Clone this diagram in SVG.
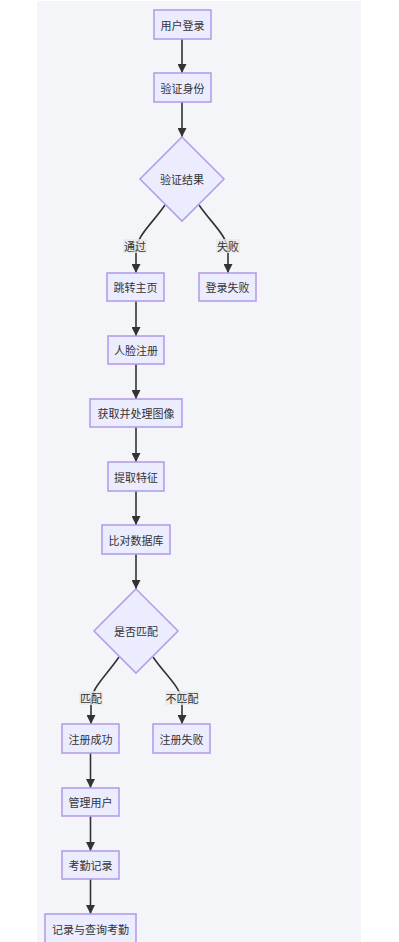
<svg xmlns="http://www.w3.org/2000/svg" width="399" height="942" viewBox="0 0 399 942">
<defs>
<style>
.n rect,.n polygon{fill:#ECECFF;stroke:#b49fea;stroke-width:1.6}
text{font-family:"Noto Sans CJK SC","Noto Sans",sans-serif;font-size:11px;fill:#333;text-anchor:middle;dominant-baseline:central}
.e path{fill:none;stroke:#333;stroke-width:1.6}
.lb rect{fill:#e8e8e8;opacity:0.8}
</style>
<marker id="ah" viewBox="0 0 10 10" refX="10" refY="5" markerWidth="9" markerHeight="9" markerUnits="userSpaceOnUse" orient="auto">
<path d="M0,0 L10,5 L0,10 z" fill="#333"/>
</marker>
</defs>
<rect x="0" y="0" width="399" height="942" fill="#ffffff"/>
<rect x="37" y="1" width="324" height="941" fill="#f4f5f8"/>
<g id="connectors" class="e">
<path d="M182,39 L182,73" marker-end="url(#ah)"/>
<path d="M182,102 L182,137" marker-end="url(#ah)"/>
<path d="M165,205 C152,224 136,236 136,252 L136,273" marker-end="url(#ah)"/>
<path d="M199,205 C212,224 228,236 228,252 L228,273" marker-end="url(#ah)"/>
<path d="M136,301 L136,336" marker-end="url(#ah)"/>
<path d="M136,364 L136,399" marker-end="url(#ah)"/>
<path d="M136,427 L136,462" marker-end="url(#ah)"/>
<path d="M136,491 L136,525" marker-end="url(#ah)"/>
<path d="M136,554 L136,589" marker-end="url(#ah)"/>
<path d="M119,657 C106,676 91,688 91,703 L91,724" marker-end="url(#ah)"/>
<path d="M153,657 C166,676 182,688 182,703 L182,724" marker-end="url(#ah)"/>
<path d="M90.5,753 L90.5,788" marker-end="url(#ah)"/>
<path d="M90.5,816 L90.5,851" marker-end="url(#ah)"/>
<path d="M90.5,879 L90.5,914" marker-end="url(#ah)"/>
</g>
<g id="edge-labels" class="lb">
<g id="lbl-pass"><rect x="123" y="239" width="24" height="14"/><text x="135" y="246">通过</text></g>
<g id="lbl-fail"><rect x="216" y="239" width="24" height="14"/><text x="228" y="246">失败</text></g>
<g id="lbl-match"><rect x="79" y="691" width="24" height="14"/><text x="91" y="698">匹配</text></g>
<g id="lbl-nomatch"><rect x="165" y="691" width="34" height="14"/><text x="182" y="698">不匹配</text></g>
</g>
<g id="n-login" class="n"><rect x="154" y="10" width="57" height="29"/><text x="182.5" y="24.5">用户登录</text></g>
<g id="n-verify" class="n"><rect x="154" y="73" width="57" height="29"/><text x="182.5" y="87.5">验证身份</text></g>
<g id="n-result" class="n"><polygon points="182,137 224,179 182,221 140,179"/><text x="182" y="179">验证结果</text></g>
<g id="n-home" class="n"><rect x="107" y="273" width="57" height="28"/><text x="135.5" y="287">跳转主页</text></g>
<g id="n-loginfail" class="n"><rect x="199" y="273" width="57" height="28"/><text x="227.5" y="287">登录失败</text></g>
<g id="n-facereg" class="n"><rect x="108" y="336" width="56" height="28"/><text x="136" y="350">人脸注册</text></g>
<g id="n-image" class="n"><rect x="90" y="399" width="92" height="28"/><text x="136" y="413">获取并处理图像</text></g>
<g id="n-feature" class="n"><rect x="108" y="462" width="56" height="29"/><text x="136" y="476.5">提取特征</text></g>
<g id="n-compare" class="n"><rect x="102" y="525" width="68" height="29"/><text x="136" y="539.5">比对数据库</text></g>
<g id="n-match" class="n"><polygon points="136,589 178,631 136,673 94,631"/><text x="136" y="631">是否匹配</text></g>
<g id="n-regok" class="n"><rect x="62" y="724" width="57" height="29"/><text x="90.5" y="738.5">注册成功</text></g>
<g id="n-regfail" class="n"><rect x="153" y="724" width="57" height="29"/><text x="181.5" y="738.5">注册失败</text></g>
<g id="n-manage" class="n"><rect x="62" y="788" width="57" height="28"/><text x="90.5" y="802">管理用户</text></g>
<g id="n-attend" class="n"><rect x="62" y="851" width="57" height="28"/><text x="90.5" y="865">考勤记录</text></g>
<g id="n-query" class="n"><rect x="45" y="914" width="91" height="29"/><text x="90.5" y="928.5">记录与查询考勤</text></g>
</svg>
